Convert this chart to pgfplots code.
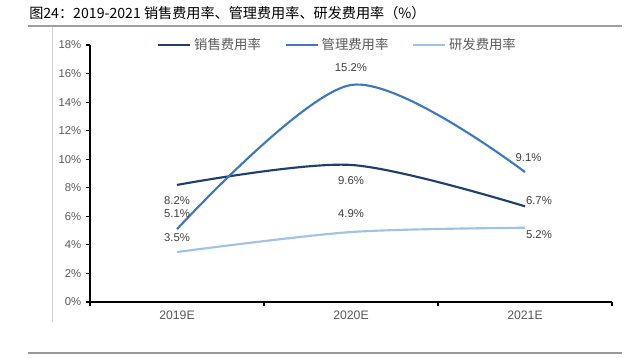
\documentclass[border=0pt]{standalone}
\usepackage{pgfplots}
\pgfplotsset{compat=1.18}
\usepackage{fontspec}
\setmainfont{Liberation Sans}
\newfontfamily\cjk{Noto Sans CJK SC}
\definecolor{c1}{HTML}{1F3F6E}
\definecolor{c2}{HTML}{3C78C3}
\definecolor{c3}{HTML}{9DC3E6}
\definecolor{tk}{HTML}{595959}
\definecolor{lb}{HTML}{404040}
\begin{document}
\begin{tikzpicture}
\path[use as bounding box] (0pt,0pt) rectangle (478.5pt,267.75pt);
\node[anchor=base west, inner sep=0, font=\cjk\fontsize{10.6}{12}\selectfont] at (21.75pt,253.5pt) {图24：2019-2021 销售费用率、管理费用率、研发费用率（\%）};
\draw[gray!75, line width=1.2pt] (21pt,248.25pt) -- (466.5pt,248.25pt);
\draw[gray!35, line width=0.6pt] (39pt,247.5pt) -- (39pt,26.25pt);
\draw[gray!80, line width=0.9pt] (21pt,3pt) -- (466.5pt,3pt);
\begin{axis}[at={(67.5pt,41.25pt)}, anchor=south west, scale only axis,
  width=391.5pt, height=192.75pt,
  xmin=-0.5, xmax=2.5, ymin=0, ymax=18,
  axis lines*=left,
  axis line style={black, line width=1pt},
  xtick={0,1,2}, xticklabels={2019E,2020E,2021E},
  major x tick style={draw=none},
  minor xtick={-0.5,0.5,1.5,2.5},
  minor tick length=3pt,
  minor x tick style={black, line width=0.8pt},
  ytick={0,2,...,18},
  yticklabels={0\%,2\%,4\%,6\%,8\%,10\%,12\%,14\%,16\%,18\%},
  major tick length=3pt,
  tick align=outside,
  y tick style={black, line width=0.8pt},
  ticklabel style={font=\fontsize{8.5}{10}\selectfont, text=tk},
  xticklabel style={font=\fontsize{9.2}{10}\selectfont, text=tk},
  /pgf/number format/assume math mode=true,
  legend style={at={(0.475,1.0)}, anchor=center, draw=none, fill=none,
    legend columns=3, font=\cjk\fontsize{10}{12}\selectfont, text=tk,
    /tikz/every even column/.append style={column sep=16pt}},
  legend image code/.code={\draw[#1] (0pt,0pt) -- (24pt,0pt);},
  clip=false,
]
\addplot[c1, line width=1.6pt, smooth] coordinates {(0,8.2) (1,9.6) (2,6.7)};
\addlegendentry{销售费用率}
\addplot[c2, line width=1.6pt, smooth] coordinates {(0,5.1) (1,15.2) (2,9.1)};
\addlegendentry{管理费用率}
\addplot[c3, line width=1.6pt, smooth] coordinates {(0,3.5) (1,4.9) (2,5.2)};
\addlegendentry{研发费用率}
\begin{scope}[every node/.style={font=\fontsize{8.5}{10}\selectfont, text=lb}]
\node at (axis cs:0,7.1) {8.2\%};
\node at (axis cs:0,6.2) {5.1\%};
\node at (axis cs:0,4.5) {3.5\%};
\node at (axis cs:1,16.4) {15.2\%};
\node at (axis cs:1,8.5) {9.6\%};
\node at (axis cs:1,6.2) {4.9\%};
\node at (axis cs:2.02,10.1) {9.1\%};
\node at (axis cs:2.08,7.1) {6.7\%};
\node at (axis cs:2.08,4.7) {5.2\%};
\end{scope}
\end{axis}
\end{tikzpicture}
\end{document}
